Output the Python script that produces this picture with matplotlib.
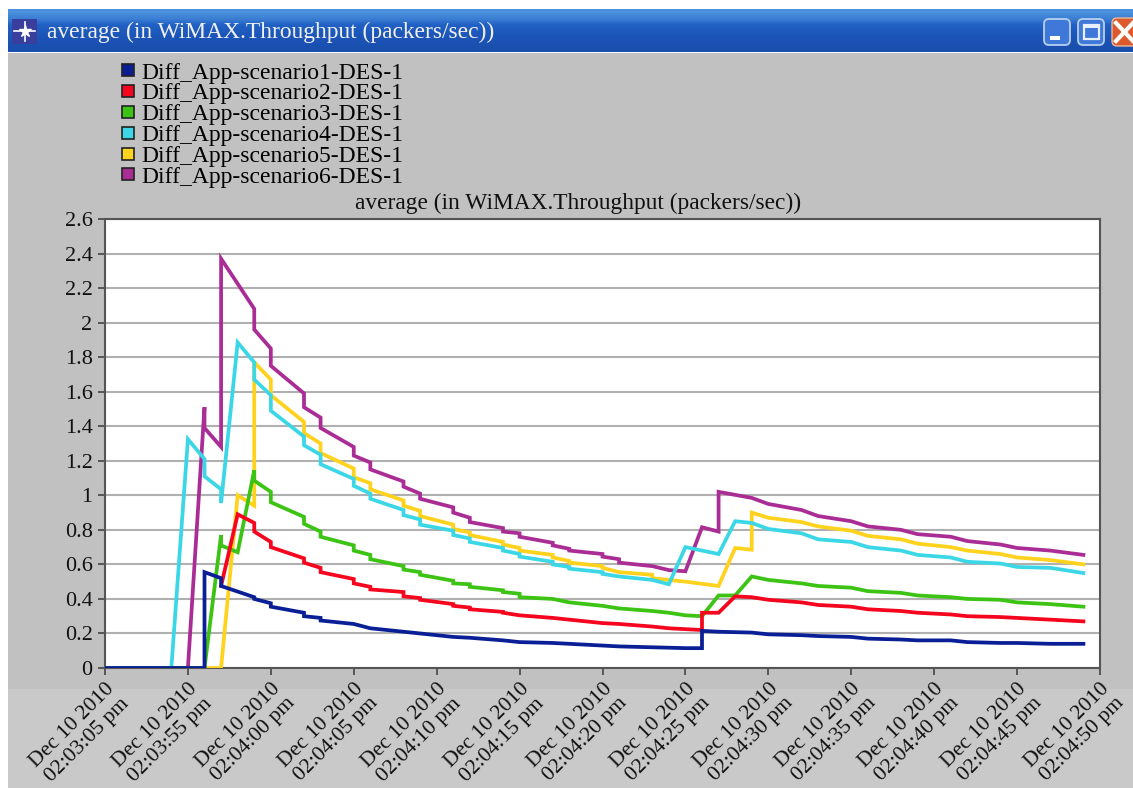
import matplotlib
matplotlib.use('Agg')
import matplotlib.pyplot as plt
from matplotlib.colors import LinearSegmentedColormap
from matplotlib.lines import Line2D
from matplotlib.patches import FancyBboxPatch, Rectangle

plt.rcParams['font.family'] = ['Liberation Serif', 'DejaVu Serif']

W, H = 1133, 788

title = 'average (in WiMAX.Throughput (packers/sec))'
names = ['Diff_App-scenario%d-DES-1' % i for i in range(1, 7)]
times = ['02:03:05', '02:03:55', '02:04:00', '02:04:05', '02:04:10', '02:04:15', '02:04:20',
         '02:04:25', '02:04:30', '02:04:35', '02:04:40', '02:04:45', '02:04:50']
x_labels = ['Dec 10 2010\n%s pm' % t for t in times]
y_ticks = [0, 0.2, 0.4, 0.6, 0.8, 1, 1.2, 1.4, 1.6, 1.8, 2, 2.2, 2.4, 2.6]
y_labels = ['0', '0.2', '0.4', '0.6', '0.8', '1', '1.2', '1.4', '1.6', '1.8', '2', '2.2', '2.4', '2.6']
colours = ['#0a1e96', '#f5051e', '#3cc314', '#3cd7e6', '#ffd21e', '#aa2d96']

# x is seconds on the chart's axis (one tick = 5), repeated x = vertical step
x1 = [0, 6, 6, 7, 7, 9, 9, 10, 10, 12, 12, 13, 13, 15, 16, 18, 19, 21, 22, 24, 25, 27, 28, 30, 31, 33, 35,
      36, 36, 37, 39, 40, 42, 43, 45, 46, 48, 49, 51, 52, 54, 55, 57, 59]
y1 = [0, 0, .555, .52, .475, .41, .40, .375, .355, .32, .30, .29, .275, .255, .23, .21, .20, .18, .175, .16, .15, .145,
      .14, .13, .125, .12, .115, .115, .215, .21, .205, .195, .19, .185, .18, .17, .165, .16, .16, .15, .145, .145, .14, .14]

x2 = [7, 8, 9, 9, 10, 10, 12, 12, 13, 13, 15, 15, 16, 16, 18, 18, 19, 19, 21, 21, 22, 22, 24, 24, 25, 27, 28, 30, 31, 33, 34, 35,
      36, 36, 37, 38, 39, 40, 42, 43, 45, 46, 48, 49, 51, 52, 54, 55, 57, 59]
y2 = [.475, .89, .84, .79, .73, .70, .635, .61, .58, .555, .515, .49, .47, .455, .44, .415, .405, .395, .37, .36, .35, .34, .325, .32,
      .305, .29, .28, .26, .255, .24, .23, .225, .22, .32, .32, .415, .41, .395, .38, .365, .355, .34, .33, .32, .31, .30, .295, .29, .28, .27]

x3 = [0, 6, 7, 7, 8, 9, 9, 10, 10, 12, 12, 13, 13, 15, 15, 16, 16, 18, 18, 19, 19, 21, 21, 22, 22, 24, 24, 25, 25, 27, 28, 30, 31, 33, 34, 35,
      36, 37, 38, 39, 40, 42, 43, 45, 46, 48, 49, 51, 52, 54, 55, 57, 59]
y3 = [0, 0, .77, .71, .67, 1.145, 1.085, 1.02, .96, .875, .835, .79, .76, .71, .68, .655, .63, .59, .57, .555, .54, .505, .49, .485, .47, .45, .44, .43, .41,
      .40, .38, .36, .345, .33, .32, .305, .30, .42, .42, .53, .51, .49, .475, .465, .445, .435, .42, .41, .40, .395, .38, .37, .355]

x4 = [0, 4, 5, 6, 6, 7, 7, 8, 9, 9, 10, 10, 12, 12, 13, 13, 15, 15, 16, 16, 18, 18, 19, 19, 21, 21, 22, 22, 24, 24, 25, 25, 27, 27, 28, 28, 30, 30, 31, 33, 34,
      35, 37, 38, 39, 40, 42, 43, 45, 46, 48, 49, 51, 52, 54, 55, 57, 59]
y4 = [0, 0, 1.325, 1.21, 1.11, 1.035, .955, 1.885, 1.77, 1.67, 1.58, 1.49, 1.34, 1.29, 1.235, 1.18, 1.095, 1.055, 1.01, .98, .915, .885, .86, .83, .795, .77, .75, .73, .695, .68, .66, .645, .615, .60, .585, .575, .555, .545, .53, .51, .485,
      .70, .66, .85, .84, .805, .78, .745, .73, .70, .68, .655, .64, .615, .605, .585, .58, .55]

x5 = [0, 7, 8, 9, 9, 10, 10, 12, 12, 13, 13, 15, 15, 16, 16, 18, 18, 19, 19, 21, 21, 22, 22, 24, 24, 25, 25, 27, 27, 28, 28, 30, 30, 31, 33, 33, 35, 37, 38, 39, 39,
      40, 42, 43, 45, 46, 48, 49, 51, 52, 54, 55, 57, 59]
y5 = [0, 0, 1.0, .94, 1.77, 1.67, 1.58, 1.425, 1.36, 1.30, 1.245, 1.155, 1.105, 1.07, 1.035, .97, .94, .91, .88, .83, .805, .785, .77, .73, .715, .695, .68, .655, .64, .62, .61, .59, .58, .555, .54, .52, .50, .475, .695, .685, .90,
      .87, .845, .82, .795, .765, .745, .72, .70, .68, .66, .64, .625, .60]

x6 = [0, 5, 6, 6, 7, 7, 9, 9, 10, 10, 12, 12, 13, 13, 15, 15, 16, 16, 18, 18, 19, 19, 21, 21, 22, 22, 24, 24, 25, 25, 27, 27, 28, 28, 30, 30, 31, 31, 33, 34, 35,
      36, 37, 37, 39, 40, 42, 43, 45, 46, 48, 49, 51, 52, 54, 55, 57, 59]
y6 = [0, 0, 1.51, 1.39, 1.28, 2.37, 2.08, 1.96, 1.85, 1.75, 1.59, 1.51, 1.45, 1.39, 1.28, 1.23, 1.19, 1.15, 1.08, 1.05, 1.01, .98, .93, .90, .87, .845, .81, .79, .78, .76, .725, .71, .69, .68, .66, .645, .63, .61, .59, .567, .56,
      .815, .79, 1.02, .985, .95, .915, .88, .85, .82, .80, .775, .76, .735, .715, .695, .68, .655]

xs = [x1, x2, x3, x4, x5, x6]
ys = [y1, y2, y3, y4, y5, y6]

fig = plt.figure(figsize=(W / 100, H / 100), dpi=100, facecolor='white')

# window frame, drawn in pixel coordinates
bg = fig.add_axes([0, 0, 1, 1])
bg.axis('off')
bg.add_patch(Rectangle((8, 53), W - 8, 636, color='#c1c1c1', lw=0))
bg.add_patch(Rectangle((8, 689), W - 8, 99, color='#c9c9c9', lw=0))
bar_map = LinearSegmentedColormap.from_list('bar', ['#4a90dc', '#2160c4', '#1c55b8', '#1a4fae'])
bg.imshow([[0.0], [0.15], [0.4], [0.6], [0.8], [1.0]], extent=(8, W, 52, 9), aspect='auto', cmap=bar_map,
          interpolation='bilinear')
bg.set_xlim(0, W)
bg.set_ylim(H, 0)
bg.add_patch(Rectangle((12, 19), 25, 25, color='#3a3f9e', lw=0))
bg.plot([14, 35], [31, 31], color='white', lw=1.2)
bg.plot([25, 25], [22, 41], color='white', lw=1.2)
bg.plot([25], [31], marker='*', color='white', ms=9)
bg.text(47, 32, title, color='#f0f0f0', fontsize=16.9, va='center', ha='left')
bg.add_patch(FancyBboxPatch((1044, 19), 26, 26, boxstyle='round,pad=0,rounding_size=5', fc='#3f78d8', ec='#b8d0f0', lw=1.3))
bg.add_patch(Rectangle((1050, 36), 10, 4, color='white', lw=0))
bg.add_patch(FancyBboxPatch((1078, 19), 26, 26, boxstyle='round,pad=0,rounding_size=5', fc='#3f78d8', ec='#b8d0f0', lw=1.3))
bg.add_patch(Rectangle((1084, 25), 15, 14, fc='none', ec='#e8f0ff', lw=1.6))
bg.add_patch(Rectangle((1084, 25), 15, 3, color='#e8f0ff', lw=0))
bg.add_patch(FancyBboxPatch((1112, 18), 30, 28, boxstyle='round,pad=0,rounding_size=5', fc='#dd5a2c', ec='#e8b8a0', lw=1))
bg.plot([1116, 1133], [23, 41], color='white', lw=3)
bg.plot([1133, 1116], [23, 41], color='white', lw=3)

ax = fig.add_axes([105 / W, 1 - 668 / H, 995 / W, 449 / H])
ax.set_facecolor('white')
for x, y, c in reversed(list(zip(xs, ys, colours))):
    ax.plot(x, y, color=c, lw=2.7, solid_joinstyle='miter', zorder=3)

ax.set_xlim(0, 60)
ax.set_ylim(0, 2.6)
ax.set_xticks(range(0, 65, 5))
ax.set_xticklabels(x_labels, rotation=45, ha='right', va='top', rotation_mode='anchor', fontsize=15.6,
                   linespacing=1.15, color='#111111')
ax.set_yticks(y_ticks)
ax.set_yticklabels(y_labels, fontsize=16, color='#111111')
ax.tick_params(axis='x', length=5, width=1.2, color='#444444', pad=3)
ax.tick_params(axis='y', length=5, width=1.2, color='#444444', pad=4)
ax.grid(axis='y', color='#b0b0b0', lw=1.5, zorder=1)
ax.set_axisbelow(True)
for s in ax.spines.values():
    s.set_color('#555555')
    s.set_linewidth(1.5)
ax.set_title(title, fontsize=16.8, pad=7, color='#111111', x=473 / 995)

handles = [Line2D([], [], ls='none', marker='s', ms=8, mfc=c, mec='#222222', mew=1.2) for c in colours]
fig.legend(handles, names, loc='upper left', bbox_to_anchor=(102 / W, 1 - 55 / H), frameon=False, fontsize=17,
           labelspacing=-0.03, handletextpad=-0.25, borderpad=0.3, borderaxespad=0, handlelength=1.6)

fig.savefig('out.png', dpi=100, facecolor='white')
